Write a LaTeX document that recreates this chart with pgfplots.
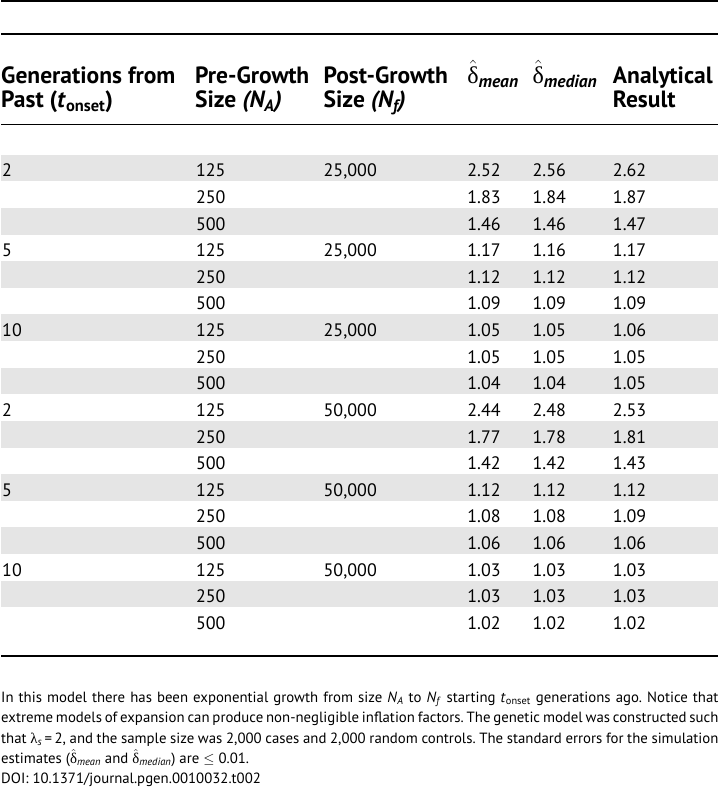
\documentclass[border=0pt]{standalone}
\usepackage{fontspec}
\setmainfont{PT Sans}
\newfontfamily\grk{Liberation Serif}
\usepackage{pgfplots}
\usepackage{pgfplotstable}
\pgfplotsset{compat=1.18}
\definecolor{band}{RGB}{229,229,229}

\newcommand\hd{\fontsize{23.5}{26}\selectfont\bfseries}
\newcommand\dd{\fontsize{18}{20}\selectfont}
\newcommand\dhat[1]{$\hat{\mbox{\grk\mdseries\fontsize{24}{24}\selectfont δ}}_{\mbox{\fontsize{17.5}{17.5}\selectfont\bfseries\itshape #1}}$}
\newcommand\cdhat[1]{$\hat{\mbox{\grk δ}}_{\mbox{\fontsize{10.5}{10.5}\selectfont\itshape #1}}$}

\pgfplotstableread{
y na mean med ana
176 125 2.52 2.56 2.62
202.5 250 1.83 1.84 1.87
229 500 1.46 1.46 1.47
255.5 125 1.17 1.16 1.17
282 250 1.12 1.12 1.12
308.5 500 1.09 1.09 1.09
335 125 1.05 1.05 1.06
361.5 250 1.05 1.05 1.05
388 500 1.04 1.04 1.05
414.5 125 2.44 2.48 2.53
441 250 1.77 1.78 1.81
467.5 500 1.42 1.42 1.43
494 125 1.12 1.12 1.12
520.5 250 1.08 1.08 1.09
547 500 1.06 1.06 1.06
573.5 125 1.03 1.03 1.03
600 250 1.03 1.03 1.03
626.5 500 1.02 1.02 1.02
}\maintable

\pgfplotstableread{
y gen nf
176 2 25,000
255.5 5 25,000
335 10 25,000
414.5 2 50,000
494 5 50,000
573.5 10 50,000
}\grouptable

\begin{document}
\begin{tikzpicture}
\begin{axis}[
  width=714bp, height=787bp, scale only axis,
  xmin=0, xmax=714, ymin=0, ymax=787, y dir=reverse,
  axis lines=none, clip=false,
  point meta=explicit symbolic,
  nodes near coords style={anchor=base west, inner sep=0pt, font=\dd, text=black},
]
% shaded rows
\addplot[fill=band, draw=none] coordinates {(0,154) (714,154) (714,180.5) (0,180.5)} -- cycle;
\addplot[fill=band, draw=none] coordinates {(0,207) (714,207) (714,233.5) (0,233.5)} -- cycle;
\addplot[fill=band, draw=none] coordinates {(0,260) (714,260) (714,286.5) (0,286.5)} -- cycle;
\addplot[fill=band, draw=none] coordinates {(0,313) (714,313) (714,339.5) (0,339.5)} -- cycle;
\addplot[fill=band, draw=none] coordinates {(0,366) (714,366) (714,392.5) (0,392.5)} -- cycle;
\addplot[fill=band, draw=none] coordinates {(0,419) (714,419) (714,445.5) (0,445.5)} -- cycle;
\addplot[fill=band, draw=none] coordinates {(0,472) (714,472) (714,498.5) (0,498.5)} -- cycle;
\addplot[fill=band, draw=none] coordinates {(0,525) (714,525) (714,551.5) (0,551.5)} -- cycle;
\addplot[fill=band, draw=none] coordinates {(0,578) (714,578) (714,604.5) (0,604.5)} -- cycle;
% rules
\addplot[black, line width=2bp] coordinates {(0,1) (714,1)};
\addplot[black, line width=2bp] coordinates {(0,34) (714,34)};
\addplot[black, line width=1.6bp] coordinates {(0,124) (714,124)};
\addplot[black, line width=1.6bp] coordinates {(0,653) (714,653)};
% data columns
\addplot[only marks, mark=none, nodes near coords] table[x expr=1, y=y, meta=gen] {\grouptable};
\addplot[only marks, mark=none, nodes near coords] table[x expr=194, y=y, meta=na] {\maintable};
\addplot[only marks, mark=none, nodes near coords] table[x expr=321, y=y, meta=nf] {\grouptable};
\addplot[only marks, mark=none, nodes near coords] table[x expr=464, y=y, meta=mean] {\maintable};
\addplot[only marks, mark=none, nodes near coords] table[x expr=529, y=y, meta=med] {\maintable};
\addplot[only marks, mark=none, nodes near coords] table[x expr=609, y=y, meta=ana] {\maintable};
% header
\node[anchor=base west, inner sep=0pt, font=\hd] at (axis cs:0,83) {Generations from};
\node[anchor=base west, inner sep=0pt, font=\hd] at (axis cs:0,107) {Past (\textit{t}\textsubscript{onset})};
\node[anchor=base west, inner sep=0pt, font=\hd] at (axis cs:193,83) {Pre-Growth};
\node[anchor=base west, inner sep=0pt, font=\hd] at (axis cs:193,107) {Size \textit{(N\textsubscript{A})}};
\node[anchor=base west, inner sep=0pt, font=\hd] at (axis cs:321,83) {Post-Growth};
\node[anchor=base west, inner sep=0pt, font=\hd] at (axis cs:321,107) {Size \textit{(N\textsubscript{f})}};
\node[anchor=base west, inner sep=0pt, font=\hd] at (axis cs:464,83) {\dhat{mean}};
\node[anchor=base west, inner sep=0pt, font=\hd] at (axis cs:529,83) {\dhat{median}};
\node[anchor=base west, inner sep=0pt, font=\hd] at (axis cs:609,83) {Analytical};
\node[anchor=base west, inner sep=0pt, font=\hd] at (axis cs:609,107) {Result};
% caption
\node[anchor=base west, inner sep=0pt] at (axis cs:0,699) {\parbox[t]{714bp}{\fontsize{14.8}{20.4}\selectfont\frenchspacing
In this model there has been exponential growth from size \textit{N}\textsubscript{\textit{A}} to \textit{N}\textsubscript{\textit{f}} starting \textit{t}\textsubscript{onset} generations ago. Notice that\linebreak
extreme models of expansion can produce non-negligible inflation factors. The genetic model was constructed such\linebreak
that {\grk λ}\textsubscript{\textit{s}}\,=\,2, and the sample size was 2,000 cases and 2,000 random controls. The standard errors for the simulation\linebreak
estimates (\cdhat{mean} and \cdhat{median}) are $\leq$ 0.01.\\
DOI: 10.1371/journal.pgen.0010032.t002}};
\end{axis}
\end{tikzpicture}
\end{document}
